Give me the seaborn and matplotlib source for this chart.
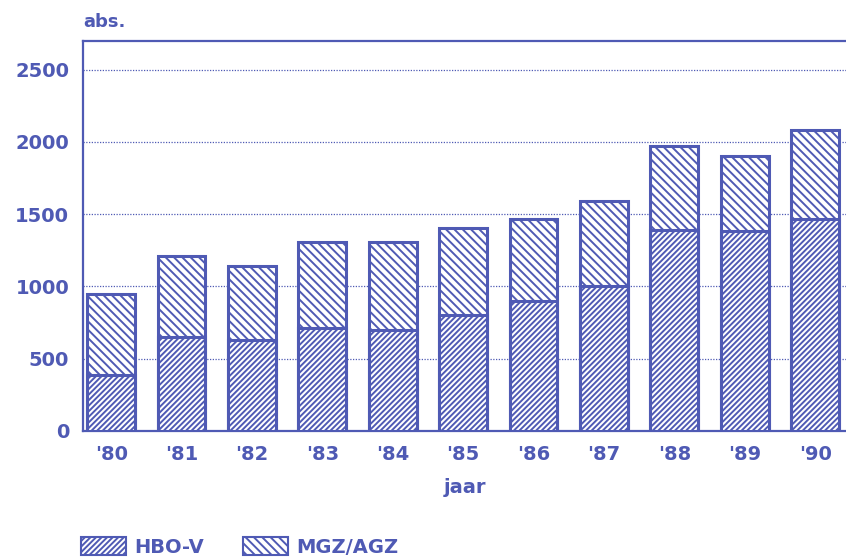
import matplotlib
matplotlib.use("Agg")
import matplotlib.pyplot as plt
import seaborn as sns
import pandas as pd
from matplotlib.patches import Patch

years = ["'80", "'81", "'82", "'83", "'84", "'85", "'86", "'87", "'88", "'89", "'90"]
hbo_v = [390, 650, 630, 715, 700, 800, 900, 1000, 1390, 1385, 1470]
mgz_agz = [555, 560, 515, 590, 605, 605, 570, 590, 580, 515, 615]
totals = [a + b for a, b in zip(hbo_v, mgz_agz)]
yticks = [0, 500, 1000, 1500, 2000, 2500]

C = "#4f5ab4"

sns.set_theme(style="white")
plt.rcParams["font.family"] = ["DejaVu Sans"]
plt.rcParams["hatch.color"] = C
plt.rcParams["hatch.linewidth"] = 1.4

df = pd.DataFrame({"jaar": years, "HBO-V": hbo_v, "totaal": totals})

fig = plt.figure(figsize=(8.46, 5.59), dpi=100)
ax = fig.add_axes([0.0981, 0.229, 0.902, 0.698])

for y in yticks[1:]:
    ax.axhline(y, color=C, lw=0.9, ls=(0, (1, 1.2)), zorder=0)

sns.barplot(data=df, x="jaar", y="totaal", color="white", edgecolor=C,
            linewidth=2.2, width=0.68, saturation=1, ax=ax, zorder=2)
n = len(years)
for p in ax.patches[:n]:
    p.set_hatch("\\\\\\\\")
sns.barplot(data=df, x="jaar", y="HBO-V", color="white", edgecolor=C,
            linewidth=2.2, width=0.68, saturation=1, ax=ax, zorder=3)
for p in ax.patches[n:]:
    p.set_hatch("//////")

ax.set_xlim(-0.4, n - 1 + 0.44)
ax.set_ylim(0, 2700)
ax.set_yticks(yticks)
ax.set_yticklabels([str(v) for v in yticks], fontsize=14, fontweight="bold", color=C)
ax.set_xticklabels(years, fontsize=14, fontweight="bold", color=C)
ax.tick_params(axis="x", direction="in", length=5, width=1.2, color=C, pad=10, bottom=True)
ax.tick_params(axis="y", direction="in", length=0, pad=10, left=True)
ax.set_xlabel("jaar", fontsize=14, fontweight="bold", color=C, labelpad=10)
ax.set_ylabel("")

for s in ["left", "bottom", "top"]:
    ax.spines[s].set_visible(True)
    ax.spines[s].set_color(C)
    ax.spines[s].set_linewidth(1.6)
ax.spines["right"].set_visible(False)

fig.text(0.098, 0.961, "abs.", fontsize=13, fontweight="bold", color=C, ha="left", va="center")

handles = [Patch(facecolor="white", edgecolor=C, hatch="//////", linewidth=1.5, label="HBO-V"),
           Patch(facecolor="white", edgecolor=C, hatch="\\\\\\\\", linewidth=1.5, label="MGZ/AGZ")]
leg = fig.legend(handles=handles, loc="lower left", bbox_to_anchor=(0.075, -0.027), ncol=2,
                 frameon=False, handlelength=2.3, handleheight=1.0, columnspacing=2.0,
                 handletextpad=0.45, prop={"size": 14, "weight": "bold"})
for t in leg.get_texts():
    t.set_color(C)

fig.savefig("out.png", dpi=100)
